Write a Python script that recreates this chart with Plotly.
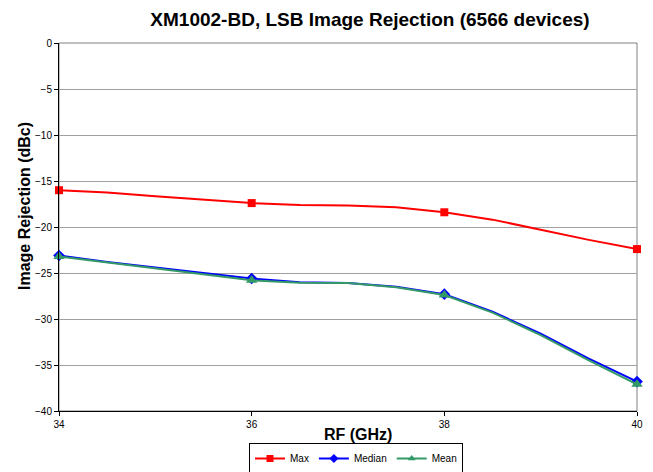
import plotly.graph_objects as go

freq = [34, 34.5, 35, 35.5, 36, 36.5, 37, 37.5, 38, 38.5, 39, 39.5, 40]
max_vals = [-16.0, -16.25, -16.65, -17.0, -17.4, -17.6, -17.65, -17.85, -18.4, -19.2, -20.3, -21.4, -22.4]
median_vals = [-23.1, -23.8, -24.4, -25.0, -25.6, -26.0, -26.1, -26.5, -27.3, -29.2, -31.6, -34.3, -36.8]
mean_vals = [-23.2, -23.85, -24.45, -25.1, -25.8, -26.05, -26.1, -26.55, -27.4, -29.3, -31.75, -34.5, -37.1]
marker_freq = [34, 36, 38, 40]

series = [
    ("Max", max_vals, "#FF0000", "square", 8),
    ("Median", median_vals, "#0000FF", "diamond", 9),
    ("Mean", mean_vals, "#339966", "triangle-up", 10),
]

W, H = 653, 472
L, R, T, B = 59, 16, 43, 61
PW, PH = W - L - R, H - T - B

fig = go.Figure()
for name, vals, color, sym, size in series:
    fig.add_trace(go.Scatter(x=freq, y=vals, mode="lines", line=dict(color=color, width=2),
                             showlegend=False, hoverinfo="skip", cliponaxis=False))
    mx = [f for f in freq if f in marker_freq]
    my = [v for f, v in zip(freq, vals) if f in marker_freq]
    fig.add_trace(go.Scatter(x=mx, y=my, mode="markers", marker=dict(color=color, symbol=sym, size=size),
                             showlegend=False, cliponaxis=False))
for name, vals, color, sym, size in series:
    fig.add_trace(go.Scatter(x=[None], y=[None], mode="lines+markers", name=name,
                             line=dict(color=color, width=2),
                             marker=dict(color=color, symbol=sym, size=7)))

fig.add_shape(type="rect", xref="paper", yref="paper", x0=0, x1=1, y0=0, y1=1,
              line=dict(color="#808080", width=1), layer="below")

fig.add_annotation(text="<b>Image Rejection (dBc)</b>", textangle=-90, showarrow=False,
                   xref="paper", yref="paper", x=(24 - L) / PW, y=(T + PH - 206) / PH,
                   xanchor="center", yanchor="middle", font=dict(size=16, color="black"))
fig.add_annotation(text="<b>RF (GHz)</b>", showarrow=False,
                   xref="paper", yref="paper", x=(357.5 - L) / PW, y=(T + PH - 434) / PH,
                   xanchor="center", yanchor="middle", font=dict(size=16, color="black"))

fig.update_layout(
    width=W, height=H,
    margin=dict(l=L, r=R, t=T, b=B, autoexpand=False),
    paper_bgcolor="white", plot_bgcolor="white",
    font=dict(family="Arial, Liberation Sans, sans-serif", color="black", size=10),
    title=dict(text="<b>XM1002-BD, LSB Image Rejection (6566 devices)</b>",
               x=370/W, xanchor="center", y=1 - 19/H, yanchor="middle",
               font=dict(size=19, color="black")),
    xaxis=dict(range=[34, 40], tickvals=[34, 36, 38, 40], showgrid=False,
               showline=True, linecolor="black", linewidth=1,
               ticks="outside", ticklen=4, tickcolor="black", automargin=False,
               zeroline=False),
    yaxis=dict(range=[-40, 0], dtick=5, showgrid=True, gridcolor="#A0A0A0", gridwidth=1,
               showline=True, linecolor="black", linewidth=1,
               ticks="outside", ticklen=4, tickcolor="black", automargin=False,
               zeroline=False),
    legend=dict(orientation="h", x=(356 - L) / PW, xanchor="center", xref="paper",
                y=1 - 443/H, yanchor="top", yref="container",
                bordercolor="black", borderwidth=1, font=dict(size=10),
                itemwidth=30, tracegroupgap=0),
)

fig.write_html("out.html", config={"displayModeBar": False},
               post_script="document.body.style.margin='0';")
